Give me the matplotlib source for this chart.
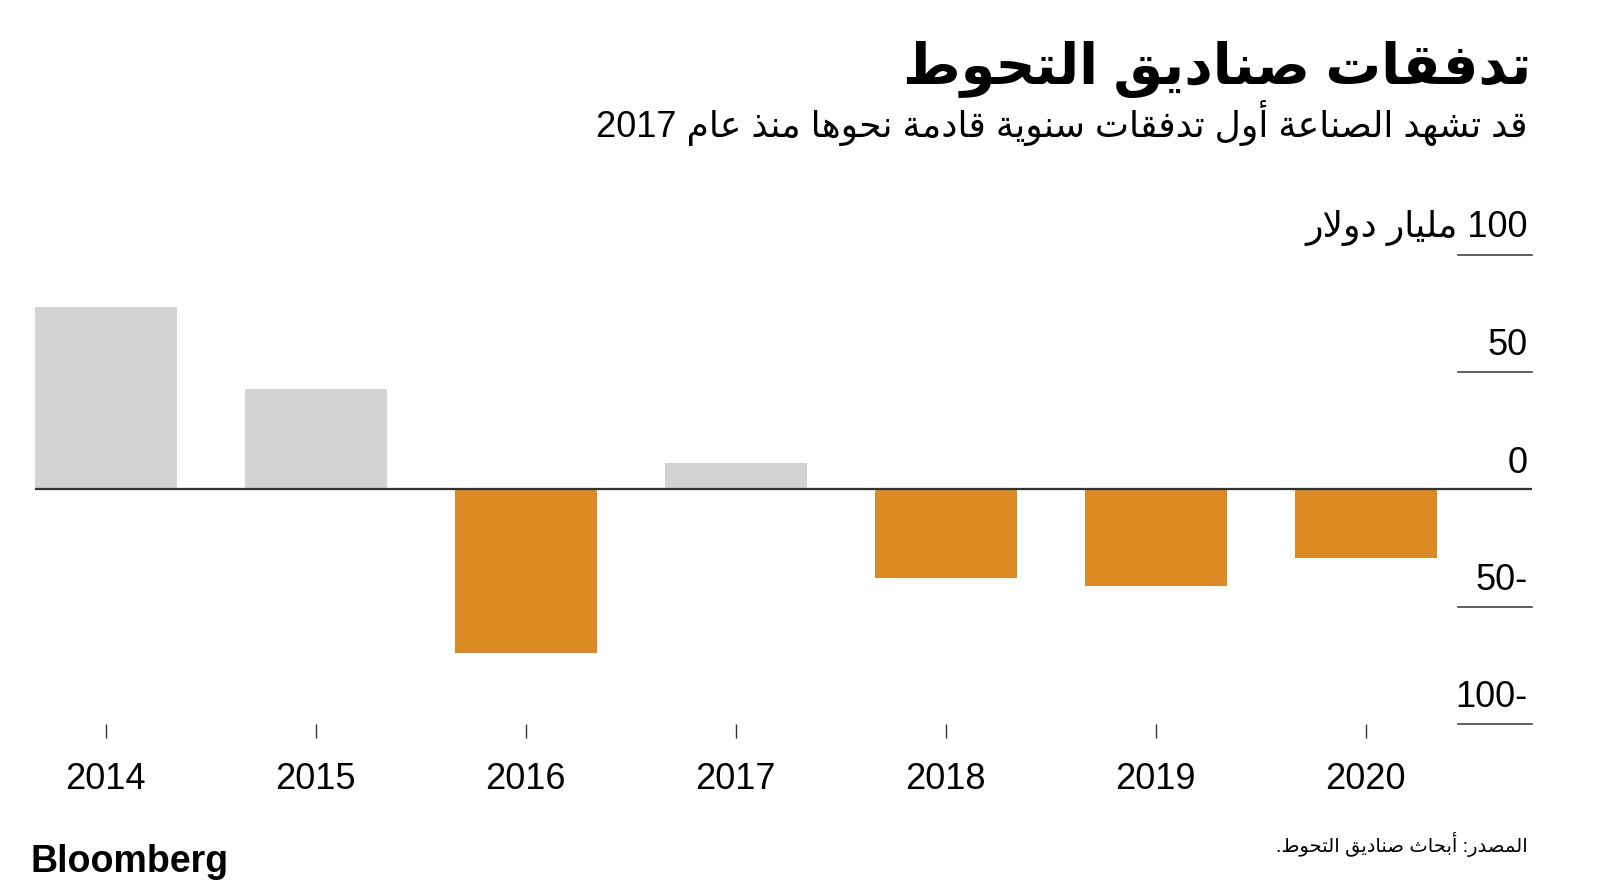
import re
import matplotlib
matplotlib.use('Agg')
import matplotlib.pyplot as plt

plt.rcParams['font.family'] = ['Liberation Sans', 'DejaVu Sans']

# data
years = ['2014', '2015', '2016', '2017', '2018', '2019', '2020']
flows = [77.6, 42.6, -69.6, 11.4, -37.8, -41.2, -29.4]
tick_vals = [100, 50, 0, -50, -100]
tick_labels = ['100 مليار دولار', '50', '0', '-50', '-100']

title = 'تدفقات صناديق التحوط'
subtitle = 'قد تشهد الصناعة أول تدفقات سنوية قادمة نحوها منذ عام 2017'
source = 'المصدر: أبحاث صناديق التحوط.'

# Arabic shaping by hand (no shaping engine in matplotlib)
DUAL = {'ب': 0xFE8F, 'ت': 0xFE95, 'ث': 0xFE99, 'ج': 0xFE9D, 'ح': 0xFEA1, 'خ': 0xFEA5,
        'س': 0xFEB1, 'ش': 0xFEB5, 'ص': 0xFEB9, 'ض': 0xFEBD, 'ط': 0xFEC1, 'ظ': 0xFEC5,
        'ع': 0xFEC9, 'غ': 0xFECD, 'ف': 0xFED1, 'ق': 0xFED5, 'ك': 0xFED9, 'ل': 0xFEDD,
        'م': 0xFEE1, 'ن': 0xFEE5, 'ه': 0xFEE9, 'ي': 0xFEF1, 'ئ': 0xFE89}
RIGHT = {'آ': 0xFE81, 'أ': 0xFE83, 'ؤ': 0xFE85, 'إ': 0xFE87, 'ا': 0xFE8D, 'ة': 0xFE93,
         'د': 0xFEA9, 'ذ': 0xFEAB, 'ر': 0xFEAD, 'ز': 0xFEAF, 'و': 0xFEED, 'ى': 0xFEEF,
         '\uFEF5': 0xFEF5, '\uFEF7': 0xFEF7, '\uFEF9': 0xFEF9, '\uFEFB': 0xFEFB}
LAM_ALEF = [('لآ', '\uFEF5'), ('لأ', '\uFEF7'), ('لإ', '\uFEF9'), ('لا', '\uFEFB')]


def shape(s):
    for a, b in LAM_ALEF:
        s = s.replace(a, b)
    out = []
    for i, c in enumerate(s):
        if c in DUAL or c in RIGHT:
            prev = s[i - 1] if i > 0 else ''
            nxt = s[i + 1] if i + 1 < len(s) else ''
            jp = prev in DUAL
            jn = c in DUAL and (nxt in DUAL or nxt in RIGHT)
            k = 3 if (jp and jn) else 1 if jp else 2 if jn else 0
            out.append(chr(DUAL.get(c, RIGHT.get(c)) + k))
        else:
            out.append(c)
    return ''.join(out)


def rtl(s):
    # right-to-left paragraph: digit runs stay left-to-right
    runs = re.split(r'([0-9]+)', shape(s))
    return ''.join(r if r.isdigit() else r[::-1] for r in reversed(runs))


fig = plt.figure(figsize=(16, 8.89), dpi=100)
ax = fig.add_axes([0.0217, 0.1856, 0.9358, 0.5279])

colors = ['#d3d3d3' if v >= 0 else '#db8a24' for v in flows]
ax.bar(range(len(years)), flows, width=0.676, color=colors, zorder=2)
ax.axhline(0, color='#333333', lw=1.6, zorder=3)

ax.set_xlim(-0.338, 6.792)
ax.set_ylim(-100, 100)
for s in ax.spines.values():
    s.set_visible(False)
ax.set_yticks([])
ax.set_xticks(range(len(years)), years)
ax.tick_params(axis='x', length=10, width=1, color='#333333', pad=17, labelsize=26)

ytr = ax.get_yaxis_transform()
for v, lab in zip(tick_vals, tick_labels):
    if v != 0:
        ax.plot([0.9504, 1.0], [v, v], transform=ytr, color='#333333', lw=1.1, clip_on=False)
    ax.annotate(rtl(lab), xy=(0.9973, v), xycoords=ytr, xytext=(0, 13 if v == 100 else 12),
                textcoords='offset points', ha='right', va='baseline', fontsize=26)

fig.text(0.957, 0.922, rtl(title), ha='right', va='center', fontsize=40, fontweight='bold')
fig.text(0.955, 0.862, rtl(subtitle), ha='right', va='center', fontsize=26)
fig.text(0.955, 0.050, rtl(source), ha='right', va='center', fontsize=14)
fig.text(0.019, 0.030, 'Bloomberg', ha='left', va='center', fontsize=27, fontweight='bold',
         family='Liberation Sans')

fig.savefig('out.png', dpi=100)
